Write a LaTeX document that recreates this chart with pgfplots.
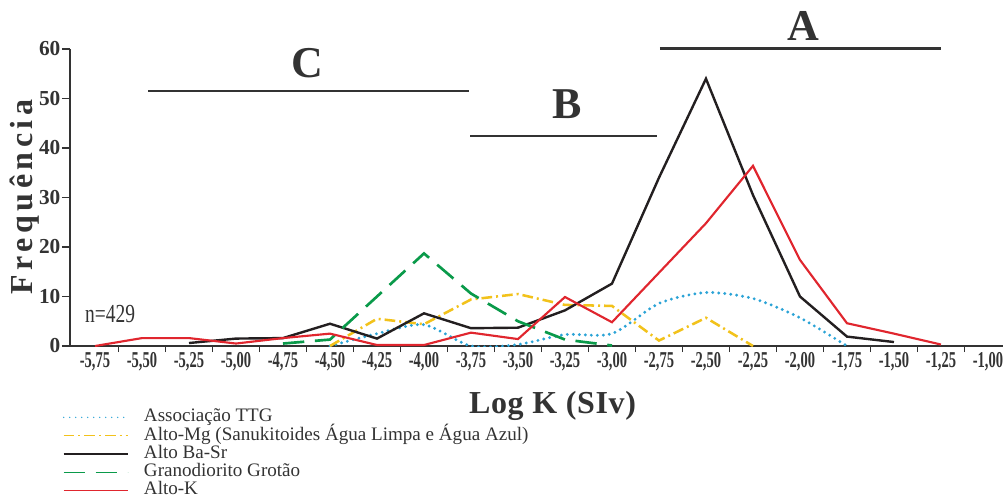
\documentclass[border=0pt]{standalone}
\usepackage{fontspec}
\setmainfont{Liberation Serif}
\newfontfamily\spacedy[LetterSpace=14]{Liberation Serif}
\newfontfamily\spacedx[LetterSpace=2]{Liberation Serif}
\usepackage{graphicx}
\usepackage{pgfplots}
\pgfplotsset{compat=1.18}
\definecolor{ttg}{HTML}{2BA3D6}
\definecolor{amg}{HTML}{F2C21B}
\definecolor{bas}{HTML}{231F20}
\definecolor{grt}{HTML}{0A9A4A}
\definecolor{ak}{HTML}{E0262E}
\definecolor{axc}{HTML}{333333}
\newcommand\sx[1]{\scalebox{0.64}[1]{\fontsize{17}{17}\selectfont\bfseries #1}}
\begin{document}
\begin{tikzpicture}
\path[use as bounding box] (-52.5pt,-111pt) rectangle (699.75pt,259.5pt);
\clip (-52.5pt,-111pt) rectangle (699.75pt,259.5pt);
\begin{axis}[
  at={(0pt,0pt)}, anchor=south west,
  width=699.75pt, height=222.75pt, scale only axis,
  xmin=-5.883, xmax=-0.92, ymin=0, ymax=60,
  axis x line*=bottom, axis y line*=left,
  axis line style={line width=2.2pt, draw=axc, -},
  clip mode=individual,
  tick align=outside,
  major tick length=6pt, minor tick length=4.5pt,
  ytick={0,10,20,30,40,50,60},
  yticklabels={0,10,20,30,40,50,60},
  yticklabel style={font=\fontsize{16}{16}\selectfont\bfseries, inner sep=1pt, text=axc},
  xtick={-5.75,-5.5,-5.25,-5,-4.75,-4.5,-4.25,-4,-3.75,-3.5,-3.25,-3,-2.75,-2.5,-2.25,-2,-1.75,-1.5,-1.25,-1},
  xticklabels={\sx{-5,75},\sx{-5,50},\sx{-5,25},\sx{-5,00},\sx{-4,75},\sx{-4,50},\sx{-4,25},\sx{-4,00},\sx{-3,75},\sx{-3,50},\sx{-3,25},\sx{-3,00},\sx{-2,75},\sx{-2,50},\sx{-2,25},\sx{-2,00},\sx{-1,75},\sx{-1,50},\sx{-1,25},\sx{-1,00}},
  xticklabel style={inner sep=0pt, anchor=north, text=axc, yshift=1.5pt},
  minor xtick={-5.625,-5.375,-5.125,-4.875,-4.625,-4.375,-4.125,-3.875,-3.625,-3.375,-3.125,-2.875,-2.625,-2.375,-2.125,-1.875,-1.625,-1.375,-1.125},
  major x tick style={draw=none},
  minor x tick style={line width=1pt, draw=axc},
  major y tick style={line width=1.2pt, draw=axc},
  legend image code/.code={\draw[#1, line width=1.1pt] (0pt,0pt) -- (48pt,0pt); \path (59pt,0pt);},
  legend style={at={(-0.0075,-0.2098)}, anchor=north west, draw=none, fill=none,
    inner sep=0pt, outer sep=0pt, row sep=0pt, column sep=0pt,
    font=\fontsize{14.3}{14.3}\selectfont,
    nodes={inner sep=0pt, text height=10.2pt, text depth=3.5pt, text=axc}},
  legend cell align=left,
]
\addplot[color=ttg, line width=2.4pt, dash pattern=on 0pt off 4.5pt, line cap=round, smooth, tension=0.45] coordinates {
(-4.50,0) (-4.25,2.5) (-4.00,4.3) (-3.75,0) (-3.50,0.3) (-3.25,2.3) (-3.00,2.5) (-2.75,8.6) (-2.50,10.8) (-2.25,9.6) (-2.00,5.7) (-1.75,0)};
\addlegendentry{Associação TTG}
\addplot[color=amg, line width=1.9pt, dash pattern=on 8pt off 3pt on 1.5pt off 3pt] coordinates {
(-4.50,0) (-4.25,5.5) (-4.00,4.4) (-3.75,9.4) (-3.50,10.5) (-3.25,8.3) (-3.00,8.1) (-2.75,1.1) (-2.50,5.7) (-2.25,0)};
\addlegendentry{Alto-Mg (Sanukitoides Água Limpa e Água Azul)}
\addplot[color=bas, line width=1.8pt] coordinates {
(-5.25,0.6) (-5.00,1.5) (-4.75,1.6) (-4.50,4.5) (-4.25,1.5) (-4.00,6.6) (-3.75,3.6) (-3.50,3.7) (-3.25,7.2) (-3.00,12.6) (-2.75,34) (-2.50,54) (-2.25,30.5) (-2.00,10) (-1.75,1.9) (-1.50,0.8)};
\addlegendentry{Alto Ba-Sr}
\addplot[color=grt, line width=2pt, dash pattern=on 16pt off 8pt] coordinates {
(-4.75,0.5) (-4.50,1.3) (-4.25,10) (-4.00,18.7) (-3.75,10.6) (-3.50,5.0) (-3.25,1.3) (-3.00,0.1)};
\addlegendentry{Granodiorito Grotão}
\addplot[color=ak, line width=1.6pt] coordinates {
(-5.75,0) (-5.50,1.6) (-5.25,1.6) (-5.00,0.5) (-4.75,1.6) (-4.50,2.5) (-4.25,0.2) (-4.00,0.2) (-3.75,2.7) (-3.50,1.4) (-3.25,9.9) (-3.00,4.8) (-2.75,14.8) (-2.50,24.8) (-2.25,36.4) (-2.00,17.4) (-1.75,4.6) (-1.50,2.5) (-1.25,0.3)};
\addlegendentry{Alto-K}
\draw[line width=2pt, color=axc] (axis cs:-5.468,51.5) -- (axis cs:-3.761,51.5);
\draw[line width=2pt, color=axc] (axis cs:-3.755,42.4) -- (axis cs:-2.761,42.4);
\draw[line width=2pt, color=axc] (axis cs:-2.745,60.1) -- (axis cs:-1.25,60.1);
\node[anchor=base, inner sep=0pt, font=\fontsize{33}{33}\selectfont\bfseries, text=axc] at (axis cs:-4.622,54.2) {C};
\node[anchor=base, inner sep=0pt, font=\fontsize{33}{33}\selectfont\bfseries, text=axc] at (axis cs:-3.239,46.0) {B};
\node[anchor=base, inner sep=0pt, font=\fontsize{33}{33}\selectfont\bfseries, text=axc] at (axis cs:-1.984,61.8) {A};
\node[anchor=base, inner sep=0pt, font=\fontsize{19.5}{19.5}\selectfont, text=axc] at (axis cs:-5.67,4.7) {\scalebox{0.75}[1]{n=429}};
\node[anchor=base, inner sep=0pt, text=axc] at (axis cs:-3.316,-13.6) {\fontsize{24}{24}\selectfont\spacedx\bfseries Log K (SIv)};
\node[anchor=base, rotate=90, inner sep=0pt, text=axc] at (axis cs:-6.085,30.1) {\fontsize{24}{24}\selectfont\spacedy\bfseries Frequência};
\end{axis}
\end{tikzpicture}
\end{document}
